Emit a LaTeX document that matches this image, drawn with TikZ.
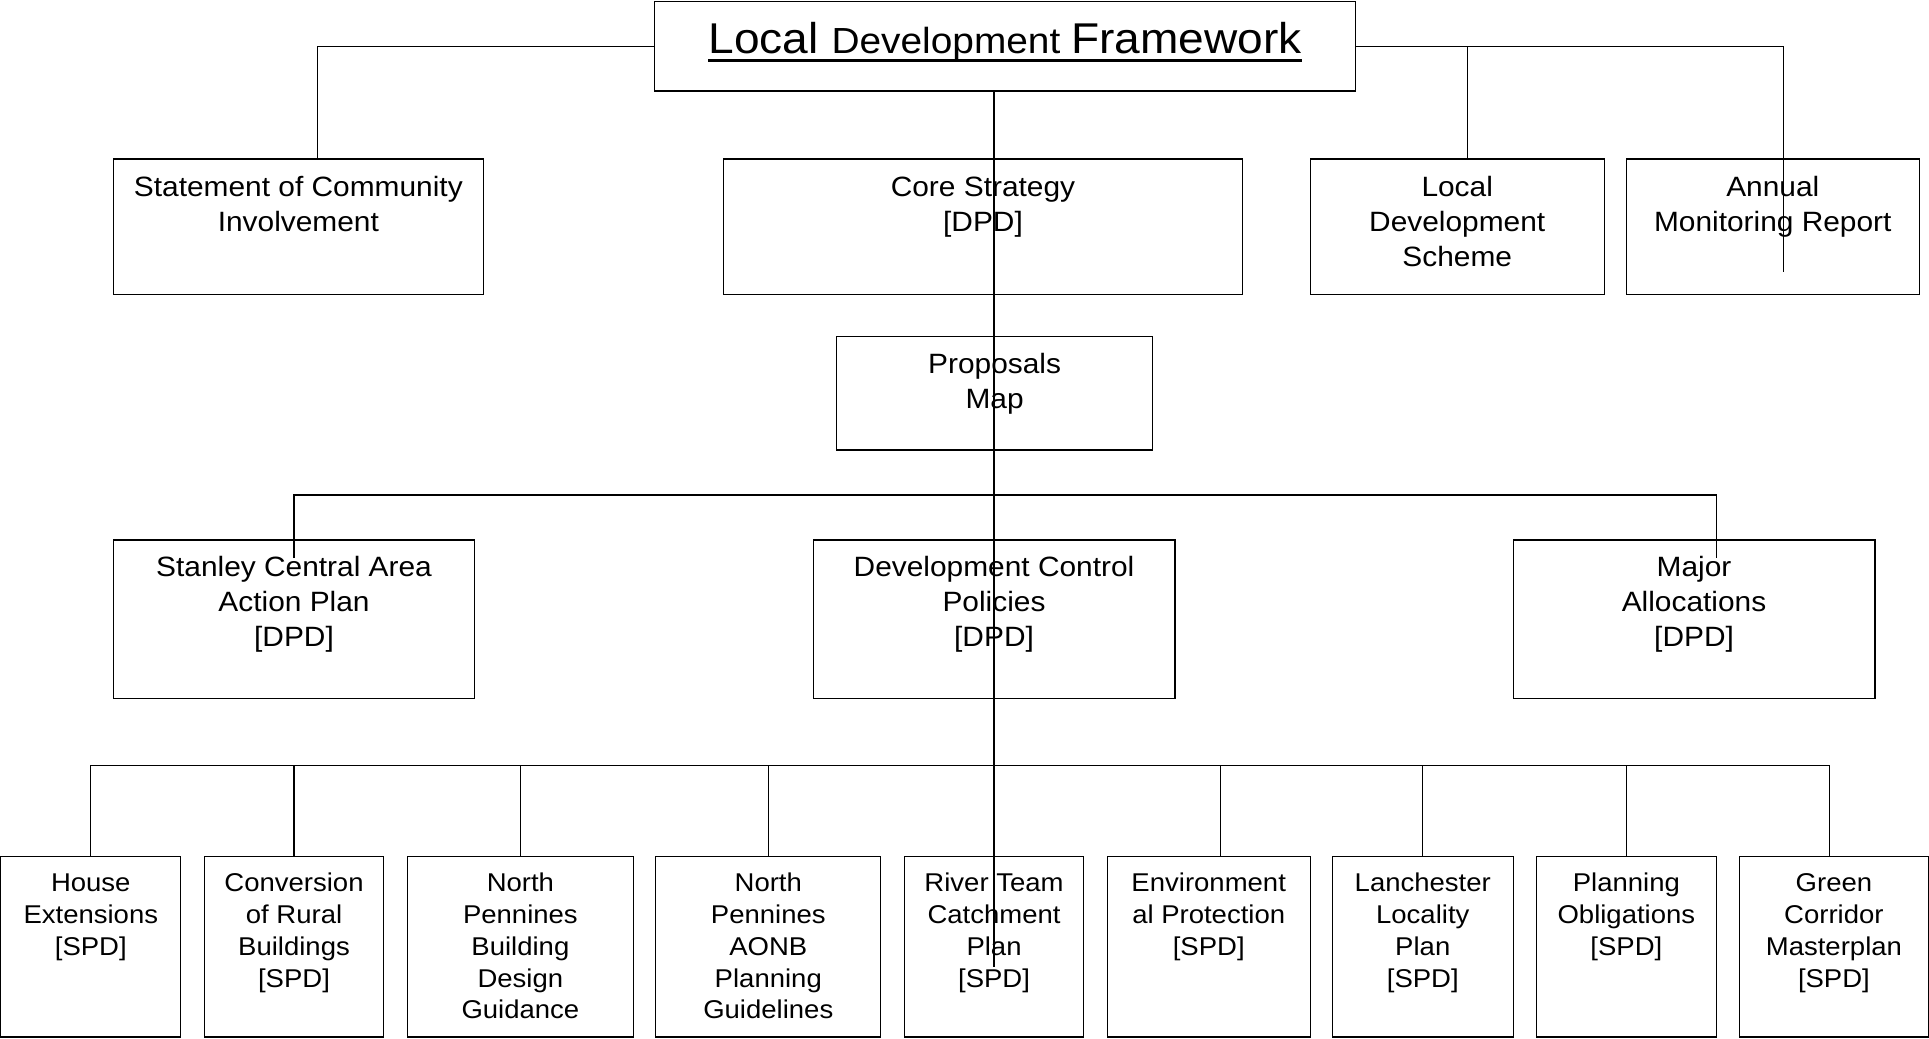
\documentclass[tikz,border=0pt]{standalone}
\usepackage{fontspec}
\setmainfont[FakeStretch=1.07]{Liberation Sans}
\newcommand\myfmid{\fontsize{22.7}{28.4}\selectfont}
\newcommand\myfbot{\fontsize{20.9}{25.8}\selectfont}
\newcommand\myDPD{{[DPD]}}
\newcommand\mySPD{{[SPD]}}
\begin{document}
\begin{tikzpicture}[x=1pt,y=-1pt,
  box/.style={draw,line width=1pt,fill=white,rectangle,inner sep=0pt,outer sep=0pt,anchor=north west},
  conn/.style={draw,line width=1pt},
  tmid/.style={anchor=base,inner sep=0pt,align=center,font=\myfmid},
  tbot/.style={anchor=base,inner sep=0pt,align=center,font=\myfbot}]
\useasboundingbox (0,0) rectangle (1568,844);
% boxes
\node[box,minimum width=570pt,minimum height=73pt] (ldf) at (532,1) {};
\node[box,minimum width=301pt,minimum height=110.2pt] (sci) at (92,129.3) {};
\node[box,minimum width=422pt,minimum height=110.2pt] (core) at (588,129.3) {};
\node[box,minimum width=239pt,minimum height=110.2pt] (lds) at (1065,129.3) {};
\node[box,minimum width=238pt,minimum height=110.2pt] (amr) at (1322,129.3) {};
\node[box,minimum width=257pt,minimum height=92.1pt] (pm) at (680,273.7) {};
\node[box,minimum width=294pt,minimum height=128.6pt] (scaap) at (92,439) {};
\node[box,minimum width=294pt,minimum height=128.6pt] (dcp) at (661,439) {};
\node[box,minimum width=294pt,minimum height=128.6pt] (ma) at (1230,439) {};
\node[box,minimum width=146.4pt,minimum height=147pt] (he) at (0.6,696) {};
\node[box,minimum width=146pt,minimum height=147pt] (crb) at (166,696) {};
\node[box,minimum width=184pt,minimum height=147pt] (npb) at (331,696) {};
\node[box,minimum width=183pt,minimum height=147pt] (npa) at (533,696) {};
\node[box,minimum width=146pt,minimum height=147pt] (rtc) at (735,696) {};
\node[box,minimum width=165pt,minimum height=147pt] (env) at (900,696) {};
\node[box,minimum width=147pt,minimum height=147pt] (lan) at (1083,696) {};
\node[box,minimum width=146pt,minimum height=147pt] (po) at (1249,696) {};
\node[box,minimum width=153.4pt,minimum height=147pt] (gc) at (1414,696) {};
% connector free ends
\coordinate (amrIn) at (1450,221);
\coordinate (rtcIn) at (808,786);
\coordinate (scaapIn) at (239,453.6);
\coordinate (maIn) at (1395.5,453.6);
\coordinate (bus3) at (808,402.4);
\coordinate (bus4) at (808,622.5);
% connectors
\draw[conn] (ldf.west) -| ([xshift=15.5pt]sci.north);
\draw[conn] (ldf.east) -| ([xshift=8.5pt]lds.north);
\draw[conn] (ldf.east) -| (amrIn);
\draw[conn] ([xshift=-9pt]ldf.south) -- (rtcIn);
\draw[conn] (scaapIn) |- (bus3) -| (maIn);
\draw[conn] (bus4) -| (he.north);
\draw[conn] (bus4) -| (crb.north);
\draw[conn] (bus4) -| (npb.north);
\draw[conn] (bus4) -| (npa.north);
\draw[conn] (bus4) -| ([xshift=9.5pt]env.north);
\draw[conn] (bus4) -| (lan.north);
\draw[conn] (bus4) -| (po.north);
\draw[conn] (bus4) -| ([xshift=-3.7pt]gc.north);
% title
\node[anchor=base,inner sep=0pt] (ttl) at (817,43.4) {\fontsize{35}{40}\selectfont Local \fontsize{29.5}{34}\selectfont Development \fontsize{35}{40}\selectfont Framework};
\draw[line width=2.5pt] ([yshift=-5.4pt]ttl.base west) -- ([yshift=-5.4pt]ttl.base east);
% texts (anchor = baseline of last line)
\node[tmid] (sci-t) at (242.5,187.9) {Statement of Community\\Involvement};
\node[tmid] (core-t) at (799,187.9) {Core Strategy\\\myDPD};
\node[tmid] (lds-t) at (1184.5,216.3) {Local\\Development\\Scheme};
\node[tmid] (amr-t) at (1441,187.9) {Annual\\Monitoring Report};
\node[tmid] (pm-t) at (808.5,331.8) {Proposals\\Map};
\node[tmid] (scaap-t) at (239,525.8) {Stanley Central Area\\Action Plan\\\myDPD};
\node[tmid] (dcp-t) at (808,525.8) {Development Control\\Policies\\\myDPD};
\node[tmid] (ma-t) at (1377,525.8) {Major\\Allocations\\\myDPD};
\node[tbot] (he-t) at (73.8,776.6) {House\\Extensions\\\mySPD};
\node[tbot] (crb-t) at (239,802.4) {Conversion\\of Rural\\Buildings\\\mySPD};
\node[tbot] (npb-t) at (423,828.2) {North\\Pennines\\Building\\Design\\Guidance};
\node[tbot] (npa-t) at (624.5,828.2) {North\\Pennines\\AONB\\Planning\\Guidelines};
\node[tbot] (rtc-t) at (808,802.4) {River Team\\Catchment\\Plan\\\mySPD};
\node[tbot] (env-t) at (982.5,776.6) {Environment\\al Protection\\\mySPD};
\node[tbot] (lan-t) at (1156.5,802.4) {Lanchester\\Locality\\Plan\\\mySPD};
\node[tbot] (po-t) at (1322,776.6) {Planning\\Obligations\\\mySPD};
\node[tbot] (gc-t) at (1490.7,802.4) {Green\\Corridor\\Masterplan\\\mySPD};
\end{tikzpicture}
\end{document}
